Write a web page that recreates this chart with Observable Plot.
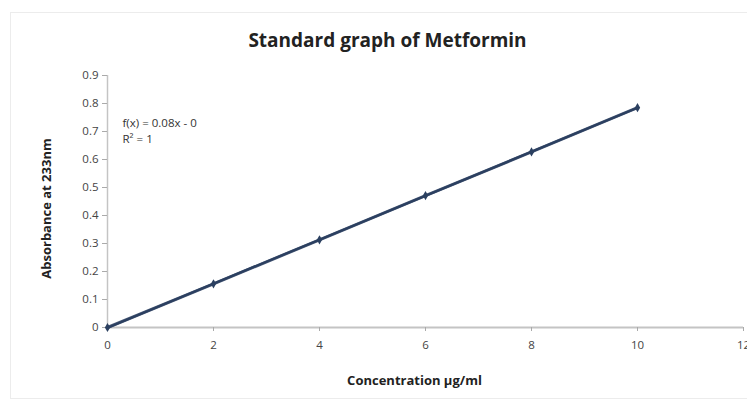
<!DOCTYPE html>
<html>
<head>
<meta charset="utf-8">
<script src="https://cdn.jsdelivr.net/npm/d3@7"></script>
<script src="https://cdn.jsdelivr.net/npm/@observablehq/plot@0.6"></script>
<style>
  html, body { margin: 0; padding: 0; background: #fff; }
  #chart svg { display: block; }
</style>
</head>
<body>
<div id="chart"></div>
<script>
// Calibration standards: concentration (µg/ml) vs absorbance at 233 nm
const concentration = [0, 2, 4, 6, 8, 10];
const absorbance = [0, 0.156, 0.313, 0.471, 0.627, 0.785];

const xTicks = [0, 2, 4, 6, 8, 10, 12];
const yTicks = [0, 0.1, 0.2, 0.3, 0.4, 0.5, 0.6, 0.7, 0.8, 0.9];

const chartTitle = "Standard graph of Metformin";
const xTitle = "Concentration µg/ml";
const yTitle = "Absorbance at 233nm";
const equationText = "f(x) = 0.08x - 0";
const rSquaredText = "R² = 1";

const points = concentration.map((c, i) => ({c, a: absorbance[i]}));

const lineColor = "#2b4060";
const axisColor = "#c4c4c4";
const textColor = "#444";

const chart = Plot.plot({
  width: 747,
  height: 405,
  marginLeft: 107,
  marginRight: 4,
  marginTop: 75,
  marginBottom: 78,
  style: {fontFamily: "'Open Sans', Lato, sans-serif", background: "#fff", overflow: "visible"},
  x: {domain: [0, 12]},
  y: {domain: [0, 0.9]},
  marks: [
    // faint outer chart border
    Plot.frame({stroke: "#ececec", strokeWidth: 1, insetLeft: -97, insetTop: -63, insetBottom: -71, insetRight: -30}),
    // axis lines
    Plot.ruleY([0], {stroke: axisColor, strokeWidth: 2}),
    Plot.ruleX([0], {stroke: axisColor, strokeWidth: 1.5}),
    Plot.axisX({
      ticks: xTicks, tickSize: 4, tickPadding: 9, stroke: "#aaa",
      fontSize: 11.5, fill: textColor, label: null
    }),
    Plot.axisY({
      ticks: yTicks, tickSize: 5, tickPadding: 4, stroke: "#aaa",
      fontSize: 11.5, fill: textColor, label: null,
      tickFormat: d => d === 0 ? "0" : d3.format(".1f")(d)
    }),
    // linear trend line
    Plot.linearRegressionY(points, {x: "c", y: "a", ci: 0, stroke: lineColor, strokeWidth: 2.2}),
    // measured series
    Plot.line(points, {x: "c", y: "a", stroke: lineColor, strokeWidth: 3, strokeOpacity: 0.85}),
    Plot.dot(points, {x: "c", y: "a", symbol: "diamond", r: 2.8, fill: lineColor}),
    // regression annotation
    Plot.text([equationText], {x: 0, y: 0.9, dx: 15, dy: 48, textAnchor: "start", fontSize: 11.5, fill: "#333"}),
    Plot.text([rSquaredText], {x: 0, y: 0.9, dx: 15, dy: 64, textAnchor: "start", fontSize: 11.5, fill: "#333"}),
    // titles
    Plot.text([chartTitle], {frameAnchor: "top", lineAnchor: "middle", dy: -35, dx: -38, fontSize: 19, fontWeight: "bold", fill: "#222"}),
    Plot.text([xTitle], {frameAnchor: "bottom", lineAnchor: "middle", dy: 53, dx: -11, fontSize: 13, fontWeight: "bold", fill: "#222"}),
    Plot.text([yTitle], {frameAnchor: "left", textAnchor: "middle", lineAnchor: "middle", dx: -61, dy: 7, rotate: -90, fontSize: 13, fontWeight: "bold", fill: "#222"})
  ]
});

document.getElementById("chart").append(chart);
</script>
</body>
</html>
